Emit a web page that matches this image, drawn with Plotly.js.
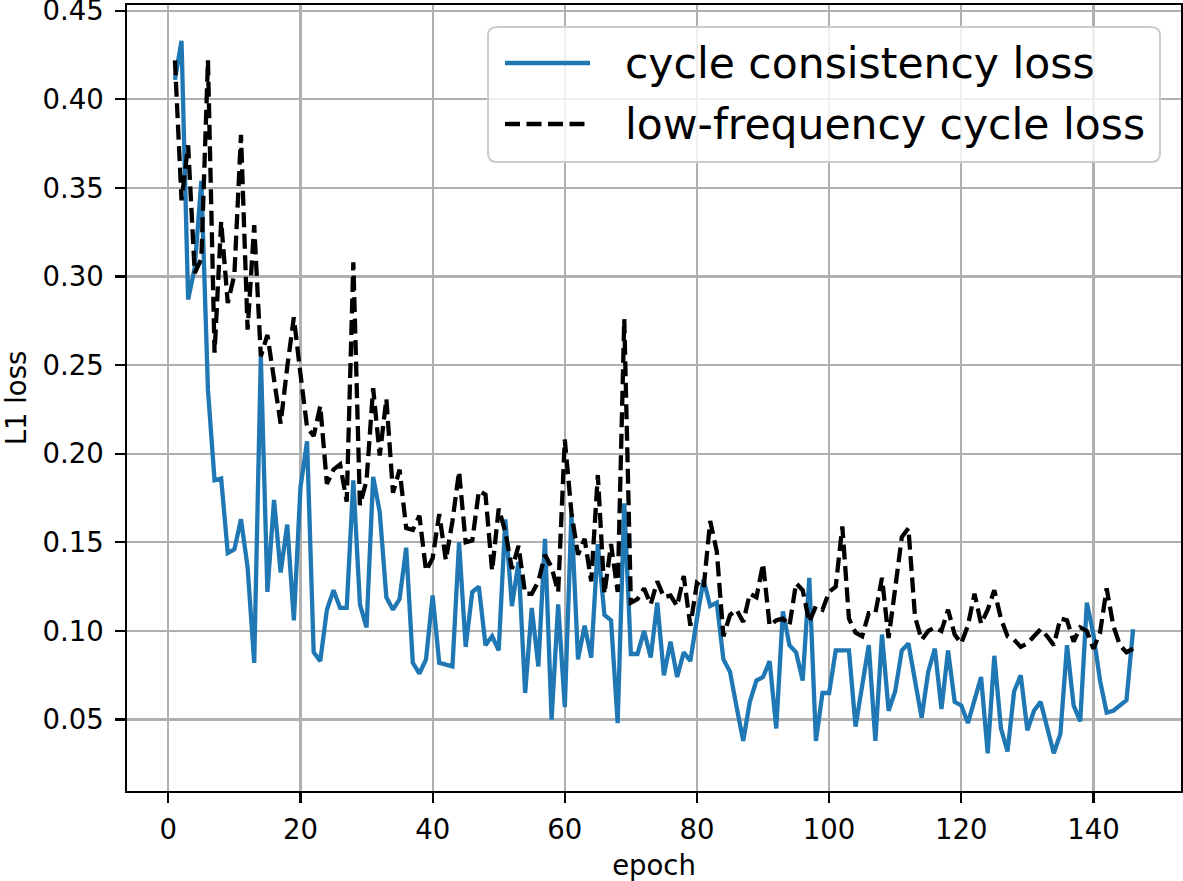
<!DOCTYPE html>
<html>
<head>
<meta charset="utf-8">
<script src="https://cdn.plot.ly/plotly-3.0.1.min.js"></script>
<style>html,body{margin:0;padding:0;background:#fff;}#chart{width:1183px;height:881px;}</style>
</head>
<body>
<div id="chart"></div>
<script>
var epochs = [];
for (var i = 1; i <= 146; i++) epochs.push(i);

var cycleLoss = [
0.411,0.433,0.287,0.305,0.354,0.236,0.185,0.186,0.144,0.146,
0.163,0.136,0.082,0.255,0.122,0.174,0.133,0.160,0.106,0.181,
0.207,0.088,0.083,0.112,0.123,0.113,0.113,0.185,0.115,0.102,
0.187,0.167,0.119,0.112,0.118,0.147,0.082,0.076,0.084,0.120,
0.082,0.081,0.080,0.150,0.091,0.122,0.125,0.092,0.097,0.089,
0.163,0.114,0.139,0.065,0.113,0.080,0.152,0.050,0.115,0.057,
0.166,0.084,0.103,0.085,0.149,0.109,0.106,0.048,0.172,0.087,
0.087,0.100,0.085,0.116,0.075,0.094,0.074,0.088,0.083,0.107,
0.129,0.114,0.116,0.084,0.077,0.057,0.038,0.060,0.072,0.074,
0.083,0.045,0.111,0.092,0.088,0.072,0.130,0.038,0.065,0.065,
0.089,0.089,0.089,0.046,0.070,0.092,0.038,0.098,0.055,0.066,
0.089,0.093,0.072,0.051,0.077,0.090,0.056,0.089,0.060,0.058,
0.048,0.062,0.074,0.031,0.086,0.045,0.032,0.066,0.075,0.044,
0.055,0.060,0.045,0.031,0.042,0.092,0.058,0.049,0.116,0.098,
0.072,0.054,0.055,0.058,0.061,0.101
];

var lowFreqLoss = [
0.422,0.343,0.374,0.302,0.310,0.422,0.257,0.331,0.285,0.301,
0.380,0.270,0.329,0.255,0.267,0.243,0.217,0.249,0.277,0.245,
0.215,0.210,0.227,0.183,0.191,0.194,0.173,0.308,0.171,0.185,
0.237,0.199,0.231,0.178,0.191,0.158,0.157,0.165,0.134,0.141,
0.166,0.140,0.162,0.190,0.150,0.151,0.179,0.177,0.134,0.169,
0.156,0.135,0.148,0.121,0.121,0.128,0.143,0.136,0.122,0.208,
0.167,0.143,0.152,0.128,0.188,0.121,0.149,0.122,0.276,0.116,
0.118,0.124,0.115,0.128,0.119,0.120,0.114,0.131,0.103,0.127,
0.124,0.162,0.145,0.097,0.109,0.112,0.105,0.121,0.119,0.138,
0.103,0.106,0.107,0.103,0.127,0.123,0.105,0.114,0.112,0.122,
0.125,0.159,0.107,0.099,0.097,0.110,0.110,0.130,0.096,0.124,
0.153,0.158,0.108,0.095,0.100,0.102,0.100,0.112,0.098,0.093,
0.103,0.121,0.104,0.112,0.123,0.107,0.097,0.095,0.091,0.093,
0.097,0.101,0.097,0.092,0.107,0.106,0.094,0.102,0.100,0.090,
0.099,0.124,0.103,0.092,0.088,0.090
];

var seriesNames = ['cycle consistency loss', 'low-frequency cycle loss'];
var xTicks = [0, 20, 40, 60, 80, 100, 120, 140];
var yTicks = [0.05, 0.10, 0.15, 0.20, 0.25, 0.30, 0.35, 0.40, 0.45];

var BLUE = '#1f77b4', BLACK = '#000000', DASH = '15px,6.5px', LW = 4.3;

var traces = [
  {x: epochs, y: cycleLoss, type: 'scatter', mode: 'lines', name: seriesNames[0],
   line: {color: BLUE, width: LW}},
  {x: epochs, y: lowFreqLoss, type: 'scatter', mode: 'lines', name: seriesNames[1],
   line: {color: BLACK, width: LW, dash: DASH}}
];

// plot-area geometry (pixels) for the hand-placed legend box
var W = 1183, H = 881, ML = 127, MR = 2, MT = 5, MB = 90;
var PW = W - ML - MR, PH = H - MT - MB;
function px(x) { return (x - ML) / PW; }
function py(y) { return (H - MB - y) / PH; }

function roundRectPath(x0, y0, x1, y1, r) {
  var rx = r / PW, ry = r / PH;
  var a = px(x0), b = px(x1), t = py(y0), u = py(y1);
  return 'M' + (a + rx) + ',' + t +
    ' L' + (b - rx) + ',' + t + ' Q' + b + ',' + t + ' ' + b + ',' + (t - ry) +
    ' L' + b + ',' + (u + ry) + ' Q' + b + ',' + u + ' ' + (b - rx) + ',' + u +
    ' L' + (a + rx) + ',' + u + ' Q' + a + ',' + u + ' ' + a + ',' + (u + ry) +
    ' L' + a + ',' + (t - ry) + ' Q' + a + ',' + t + ' ' + (a + rx) + ',' + t + ' Z';
}

var legendFont = {family: 'DejaVu Sans', size: 42.5, color: '#000'};
var shapes = [
  {type: 'path', xref: 'paper', yref: 'paper', path: roundRectPath(488, 27, 1160, 162, 9),
   fillcolor: 'rgba(255,255,255,0.8)', line: {color: '#cccccc', width: 2}, layer: 'above'},
  {type: 'line', xref: 'paper', yref: 'paper', x0: px(505), x1: px(590), y0: py(63), y1: py(63),
   line: {color: BLUE, width: LW}, layer: 'above'},
  {type: 'line', xref: 'paper', yref: 'paper', x0: px(505), x1: px(590), y0: py(124), y1: py(124),
   line: {color: BLACK, width: LW, dash: DASH}, layer: 'above'}
];
var annotations = [
  {xref: 'paper', yref: 'paper', x: px(623), y: py(63), xanchor: 'left', yanchor: 'middle',
   text: seriesNames[0], showarrow: false, font: legendFont},
  {xref: 'paper', yref: 'paper', x: px(623), y: py(124), xanchor: 'left', yanchor: 'middle',
   text: seriesNames[1], showarrow: false, font: legendFont}
];

var tickFont = {family: 'DejaVu Sans', size: 27.5, color: '#000'};
var axisCommon = {
  showgrid: true, gridcolor: '#b0b0b0', gridwidth: 2.2,
  zeroline: false, showline: true, linecolor: '#000', linewidth: 2.2, mirror: true,
  ticks: 'outside', ticklen: 9.5, tickwidth: 2.2, tickcolor: '#000',
  tickfont: tickFont, ticklabeloverflow: 'allow', automargin: false
};

var layout = {
  width: W, height: H,
  margin: {l: ML, r: MR, t: MT, b: MB},
  paper_bgcolor: '#fff', plot_bgcolor: '#fff',
  font: {family: 'DejaVu Sans', color: '#000'},
  showlegend: false,
  xaxis: Object.assign({}, axisCommon, {
    range: [-6.25, 153.25], tickvals: xTicks, ticktext: xTicks.map(String),
    ticklabelstandoff: 3,
    title: {text: 'epoch', font: tickFont, standoff: 12}
  }),
  yaxis: Object.assign({}, axisCommon, {
    range: [0.0097, 0.4532], tickvals: yTicks, ticktext: yTicks.map(function(v){return v.toFixed(2);}),
    ticklabelstandoff: 6,
    title: {text: 'L1 loss', font: tickFont, standoff: 12}
  }),
  shapes: shapes,
  annotations: annotations
};

Plotly.newPlot('chart', traces, layout, {displayModeBar: false, staticPlot: true});
</script>
</body>
</html>
